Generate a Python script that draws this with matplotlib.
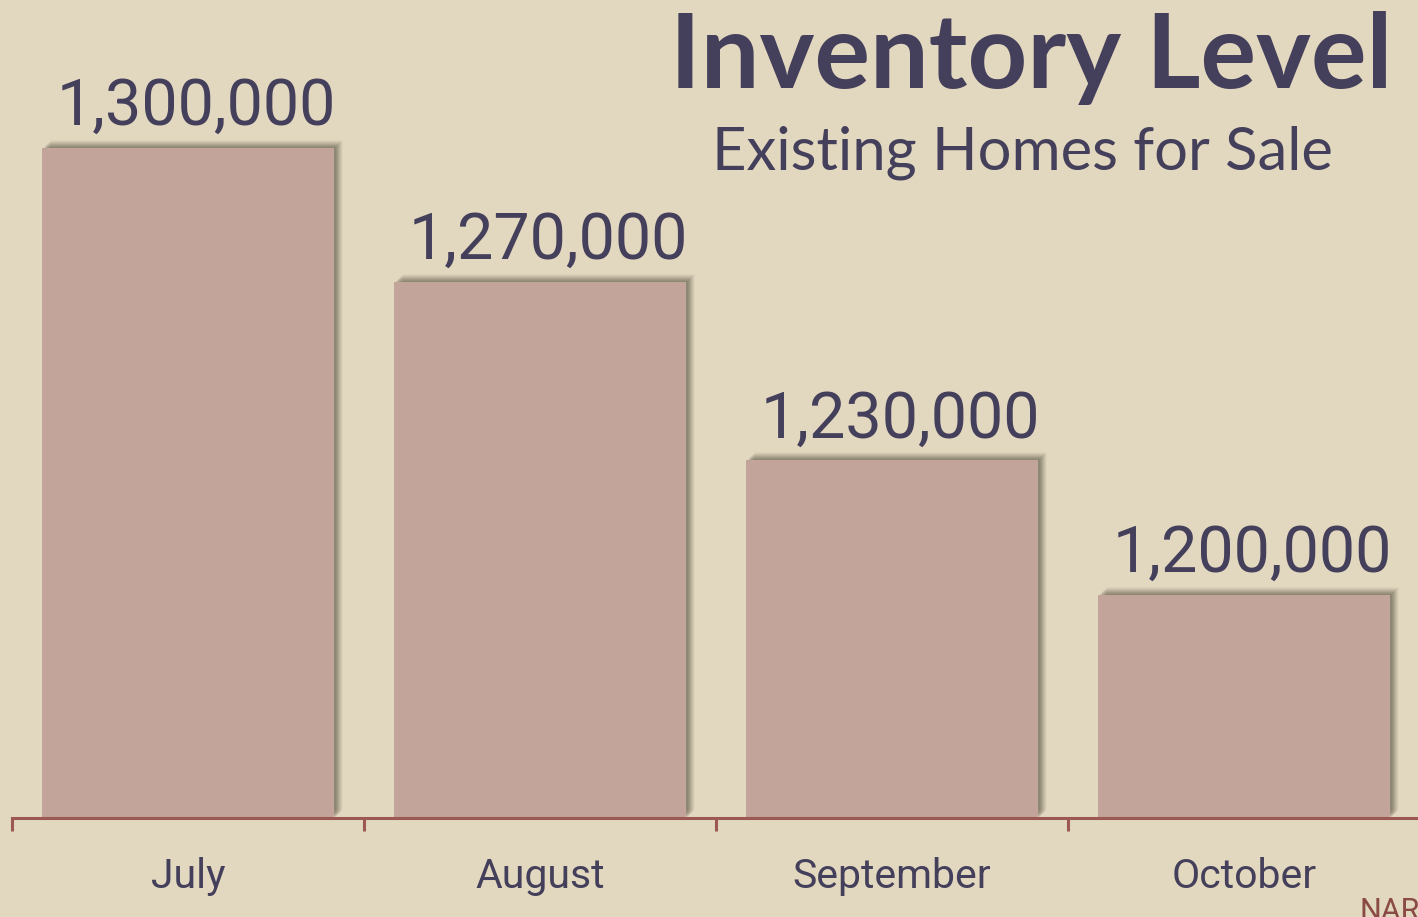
import matplotlib
matplotlib.use("Agg")
import matplotlib.pyplot as plt
from matplotlib.transforms import offset_copy

months = ["July", "August", "September", "October"]
inventory = [1300000, 1270000, 1230000, 1200000]
title = "Inventory Level"
subtitle = "Existing Homes for Sale"
source = "NAR"

BG = "#e2d7bf"
BAR = "#c2a49a"
TXT = "#443f5a"
AXC = "#9c5852"

W, H = 1418, 917
fig = plt.figure(figsize=(W / 100, H / 100), dpi=100, facecolor=BG)
ax = fig.add_axes([12 / W, 99 / H, 1408 / W, 818 / H])
ax.set_facecolor(BG)
ax.patch.set_alpha(0)

x = list(range(len(months)))
ymin = 1150000
ymax = ymin + 818 * (100000 / 447)
ax.set_xlim(-0.5, len(months) - 0.5)
ax.set_ylim(ymin, ymax)

bw = 0.83
# blurred drop shadow: stacked offset copies
shadow_layers = [(2, 1, 0.12), (3, 2, 0.12), (4, 3, 0.12), (5, 4, 0.11), (6, 5, 0.10), (7, 6, 0.08), (8, 7, 0.06), (9, 8, 0.04)]
for dx, dy, a in shadow_layers:
    tr = offset_copy(ax.transData, fig=fig, x=dx, y=dy, units="dots")
    ax.bar(x, [v - ymin for v in inventory], bottom=ymin, width=bw, color="#4e4a3a",
           alpha=a, transform=tr, zorder=1, linewidth=0)
ax.bar(x, [v - ymin for v in inventory], bottom=ymin, width=bw, color=BAR, zorder=2, linewidth=0)

for xi, v in zip(x, inventory):
    ax.annotate(f"{v:,}", (xi, v), xytext=(8, 10), textcoords="offset pixels",
                ha="center", va="bottom", fontsize=46.5, color=TXT, family="Roboto", zorder=3)

for s in ["left", "right", "top"]:
    ax.spines[s].set_visible(False)
ax.spines["bottom"].set_color(AXC)
ax.spines["bottom"].set_linewidth(2.2)
ax.set_yticks([])
ax.set_xticks([i - 0.5 for i in range(len(months))], minor=False)
ax.set_xticklabels([])
ax.tick_params(axis="x", which="major", length=9, width=2.2, color=AXC, direction="out")
ax.set_xticks(x, minor=True)
ax.set_xticklabels(months, minor=True, fontsize=29.5, color=TXT, family="Roboto")
ax.tick_params(axis="x", which="minor", length=0, pad=28)

fig.text(1031 / W, 1 - 88 / H, title, ha="center", va="baseline", fontsize=75,
         fontweight="bold", color=TXT, family="Lato")
fig.text(1022 / W, 1 - 170 / H, subtitle, ha="center", va="baseline", fontsize=43,
         fontweight="normal", color=TXT, family="Lato")
fig.text(1360 / W, 1 - 920 / H, source, ha="left", va="baseline", fontsize=22,
         color="#8a4a45", family="Roboto")

fig.savefig("out.png", dpi=100, facecolor=BG)
